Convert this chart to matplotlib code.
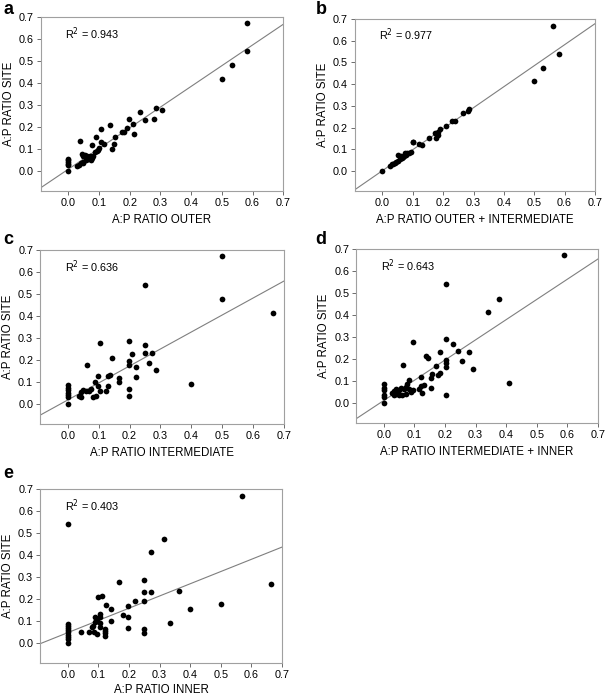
import numpy as np
import matplotlib
matplotlib.use("Agg")
import matplotlib.pyplot as plt

plt.rcParams['font.family'] = ['Liberation Sans', 'DejaVu Sans']

# panel a: outer
a_x = [0.582, 0.582, 0.533, 0.500, 0.305, 0.285, 0.280, 0.249, 0.233, 0.212,
       0.214, 0.199, 0.192, 0.182, 0.174, 0.153, 0.150, 0.143, 0.136, 0.115,
       0.107, 0.106, 0.100, 0.092, 0.090, 0.077, 0.038, 0.044, 0.049, 0.054,
       0.062, 0.069, 0.076, 0.079, 0.073, 0.058, 0.049, 0.040, 0.033, 0.027,
       0.047, 0.065, 0.087, 0.095, 0.0, 0.0, 0.0, 0.0, 0.0, 0.0]
a_y = [0.673, 0.543, 0.479, 0.416, 0.278, 0.287, 0.235, 0.231, 0.269, 0.214,
       0.168, 0.234, 0.193, 0.176, 0.177, 0.156, 0.124, 0.101, 0.209, 0.122,
       0.188, 0.130, 0.104, 0.092, 0.156, 0.118, 0.135, 0.078, 0.066, 0.073,
       0.066, 0.066, 0.058, 0.069, 0.050, 0.050, 0.038, 0.035, 0.028, 0.024,
       0.041, 0.054, 0.087, 0.095, 0.055, 0.048, 0.040, 0.033, 0.025, 0.0]

# panel b: outer + intermediate
b_x = [0.561, 0.583, 0.528, 0.498, 0.284, 0.281, 0.265, 0.240, 0.230, 0.210,
       0.189, 0.183, 0.172, 0.182, 0.178, 0.152, 0.131, 0.122, 0.100, 0.095,
       0.087, 0.078, 0.068, 0.058, 0.051, 0.042, 0.032, 0.024, 0.053, 0.073,
       0.035, 0.062, 0.046, 0.0, 0.081, 0.102, 0.064, 0.072]
b_y = [0.668, 0.538, 0.474, 0.413, 0.286, 0.277, 0.266, 0.232, 0.231, 0.209,
       0.193, 0.180, 0.176, 0.164, 0.153, 0.151, 0.119, 0.124, 0.133, 0.090,
       0.084, 0.076, 0.066, 0.057, 0.047, 0.038, 0.031, 0.024, 0.073, 0.081,
       0.034, 0.069, 0.041, 0.0, 0.081, 0.135, 0.060, 0.070]

# panel c: intermediate
c_x = [0.499, 0.499, 0.666, 0.249, 0.399, 0.198, 0.249, 0.249, 0.272, 0.209,
       0.105, 0.142, 0.198, 0.198, 0.222, 0.263, 0.285, 0.062, 0.098, 0.135,
       0.131, 0.166, 0.166, 0.221, 0.198, 0.198, 0.131, 0.124, 0.087, 0.096,
       0.104, 0.076, 0.068, 0.060, 0.049, 0.041, 0.036, 0.043, 0.081, 0.092,
       0.0, 0.0, 0.0, 0.0, 0.0, 0.0, 0.0]
c_y = [0.671, 0.475, 0.413, 0.542, 0.091, 0.287, 0.269, 0.234, 0.232, 0.229,
       0.276, 0.209, 0.194, 0.179, 0.167, 0.187, 0.153, 0.175, 0.129, 0.134,
       0.126, 0.118, 0.099, 0.121, 0.070, 0.035, 0.080, 0.061, 0.099, 0.080,
       0.060, 0.070, 0.061, 0.058, 0.065, 0.053, 0.038, 0.032, 0.032, 0.038,
       0.088, 0.075, 0.065, 0.050, 0.040, 0.030, 0.0]

# panel d: intermediate + inner
d_x = [0.590, 0.375, 0.339, 0.203, 0.408, 0.097, 0.203, 0.226, 0.138, 0.145,
       0.184, 0.241, 0.277, 0.203, 0.203, 0.203, 0.254, 0.290, 0.063, 0.170,
       0.182, 0.176, 0.158, 0.121, 0.154, 0.132, 0.121, 0.116, 0.126, 0.154,
       0.203, 0.083, 0.077, 0.072, 0.067, 0.056, 0.050, 0.039, 0.034, 0.028,
       0.039, 0.050, 0.061, 0.072, 0.088, 0.097, 0.083, 0.045, 0.034,
       0.0, 0.0, 0.0, 0.0, 0.0, 0.0]
d_y = [0.673, 0.475, 0.415, 0.544, 0.092, 0.279, 0.290, 0.270, 0.214, 0.208,
       0.232, 0.237, 0.234, 0.195, 0.181, 0.166, 0.192, 0.157, 0.176, 0.169,
       0.137, 0.128, 0.134, 0.121, 0.113, 0.083, 0.077, 0.066, 0.048, 0.071,
       0.038, 0.104, 0.089, 0.074, 0.063, 0.068, 0.060, 0.066, 0.056, 0.048,
       0.041, 0.038, 0.038, 0.044, 0.053, 0.060, 0.063, 0.048, 0.038,
       0.088, 0.070, 0.060, 0.040, 0.030, 0.0]

# panel e: inner
e_x = [0.571, 0.0, 0.315, 0.272, 0.363, 0.665, 0.5, 0.398, 0.333, 0.166,
       0.250, 0.250, 0.272, 0.221, 0.250, 0.100, 0.111, 0.124, 0.142, 0.198,
       0.180, 0.198, 0.142, 0.104, 0.106, 0.089, 0.095, 0.089, 0.079, 0.084,
       0.106, 0.104, 0.198, 0.044, 0.070, 0.086, 0.097, 0.122, 0.122, 0.122,
       0.122, 0.25, 0.25, 0.0, 0.0, 0.0, 0.0, 0.0, 0.0, 0.0, 0.0, 0.0]
e_y = [0.671, 0.544, 0.476, 0.415, 0.236, 0.270, 0.178, 0.155, 0.091, 0.277,
       0.288, 0.232, 0.232, 0.191, 0.194, 0.212, 0.215, 0.175, 0.155, 0.168,
       0.130, 0.120, 0.101, 0.133, 0.122, 0.122, 0.102, 0.098, 0.076, 0.079,
       0.076, 0.091, 0.072, 0.053, 0.053, 0.050, 0.044, 0.067, 0.056, 0.046,
       0.034, 0.067, 0.048, 0.090, 0.080, 0.070, 0.060, 0.050, 0.040, 0.030,
       0.020, 0.0]

letters = ['a', 'b', 'c', 'd', 'e']
xlabels = ['A:P RATIO OUTER', 'A:P RATIO OUTER + INTERMEDIATE',
           'A:P RATIO INTERMEDIATE', 'A:P RATIO INTERMEDIATE + INNER',
           'A:P RATIO INNER']
r2 = ['0.943', '0.977', '0.636', '0.643', '0.403']
# regression lines (slope, intercept)
slopes = [0.939, 0.965, 0.770, 0.918, 0.555]
intercepts = [0.008, 0.002, 0.019, 0.013, 0.049]

xs = [a_x, b_x, c_x, d_x, e_x]
ys = [a_y, b_y, c_y, d_y, e_y]

# axes boxes in figure fractions
boxes = [[0.067, 0.726, 0.398, 0.250],
         [0.583, 0.726, 0.394, 0.247],
         [0.066, 0.391, 0.400, 0.250],
         [0.585, 0.392, 0.397, 0.250],
         [0.066, 0.047, 0.397, 0.250]]
letter_pos = [(0.005, 0.999), (0.518, 0.999), (0.005, 0.668),
              (0.518, 0.668), (0.005, 0.332)]
xpads = [4.5, 4.5, 4.5, 4.5, 2.5]

fig = plt.figure(figsize=(6.09, 6.96), dpi=100)
ticks = np.arange(0, 0.71, 0.1)
lo, hi = -0.09, 0.7

for i in range(5):
    ax = fig.add_axes(boxes[i])
    ax.scatter(xs[i], ys[i], s=17, color='black', zorder=3, linewidths=0)
    lx = np.array([lo, hi])
    ax.plot(lx, slopes[i] * lx + intercepts[i], color='#7f7f7f', lw=0.8, zorder=2)
    ax.set_xlim(lo, hi)
    ax.set_ylim(lo, hi)
    ax.set_xticks(ticks)
    ax.set_yticks(ticks)
    ax.set_xticklabels(['%.1f' % t for t in ticks])
    ax.set_yticklabels(['%.1f' % t for t in ticks])
    ax.tick_params(labelsize=7.8, length=3, width=0.6, color='#555555', pad=2)
    for sp in ax.spines.values():
        sp.set_color('#a0a0a0')
        sp.set_linewidth(0.8)
    ax.set_xlabel(xlabels[i], fontsize=8.3, labelpad=xpads[i])
    ax.set_ylabel('A:P RATIO SITE', fontsize=8.3, labelpad=3)
    ax.text(-0.01, 0.625, 'R$^2$ = ' + r2[i], fontsize=7.8, va='center', ha='left')
    fig.text(letter_pos[i][0], letter_pos[i][1], letters[i], fontsize=13,
             fontweight='bold', va='top', ha='left')

fig.savefig('out.png', dpi=100)
